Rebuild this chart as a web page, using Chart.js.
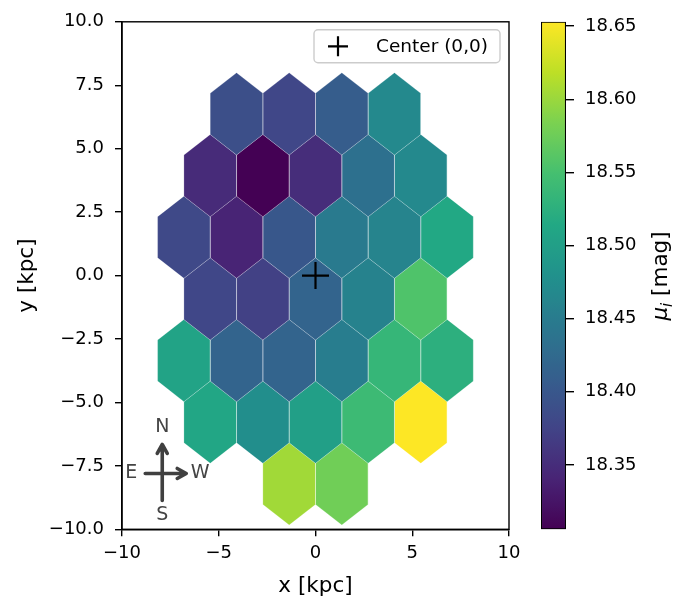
<!DOCTYPE html>
<html>
<head>
<meta charset="utf-8">
<script src="https://cdn.jsdelivr.net/npm/chart.js@4.4.1/dist/chart.umd.min.js"></script>
<style>
  html, body { margin: 0; padding: 0; background: #fff; }
  #wrap { position: relative; width: 673px; height: 596px; overflow: hidden; }
  #main { position: absolute; left: 0; top: 0; }
  #cbar { position: absolute; left: 520px; top: 0; }
</style>
</head>
<body>
<div id="wrap">
  <canvas id="main" width="673" height="596"></canvas>
  <canvas id="cbar" width="153" height="596"></canvas>
</div>
<script>
// hexbin cell centres (kpc) and mean distance modulus per cell
const hexX = [
  -4.08, -1.36, 1.36, 4.08,
  -5.44, -2.72, 0, 2.72, 5.44,
  -6.8, -4.08, -1.36, 1.36, 4.08, 6.8,
  -5.44, -2.72, 0, 2.72, 5.44,
  -6.8, -4.08, -1.36, 1.36, 4.08, 6.8,
  -5.44, -2.72, 0, 2.72, 5.44,
  -1.36, 1.36,
];
const hexY = [
  6.37, 6.37, 6.37, 6.37,
  3.94, 3.94, 3.94, 3.94, 3.94,
  1.51, 1.51, 1.51, 1.51, 1.51, 1.51,
  -0.92, -0.92, -0.92, -0.92, -0.92,
  -3.35, -3.35, -3.35, -3.35, -3.35, -3.35,
  -5.78, -5.78, -5.78, -5.78, -5.78,
  -8.21, -8.21,
];
const muI = [
  18.389, 18.379, 18.407, 18.469,
  18.348, 18.306, 18.351, 18.434, 18.469,
  18.382, 18.341, 18.400, 18.448, 18.462, 18.514,
  18.379, 18.372, 18.417, 18.459, 18.556,
  18.507, 18.417, 18.417, 18.452, 18.535, 18.525,
  18.511, 18.476, 18.500, 18.542, 18.653,
  18.604, 18.577,
];
const centerPoint = [{x: 0, y: 0}];

const xTicks = [-10, -5, 0, 5, 10];
const yTicks = [-10, -7.5, -5, -2.5, 0, 2.5, 5, 7.5, 10];
const cbarTicks = [18.35, 18.40, 18.45, 18.50, 18.55, 18.60, 18.65];

// hexagon geometry in data units (half width, centre-to-vertex)
const HEX_W = 1.36;
const HEX_R = 1.62;

const viridisStops = [
  '#440154', '#482475', '#414487', '#355f8d', '#2a788e', '#21918c',
  '#22a884', '#44bf70', '#7ad151', '#bddf26', '#fde725'
];

function hexToRgb(h) {
  return [1, 3, 5].map(i => parseInt(h.slice(i, i + 2), 16));
}

function viridis(t) {
  t = Math.min(1, Math.max(0, t));
  const pos = t * (viridisStops.length - 1);
  const i = Math.min(Math.floor(pos), viridisStops.length - 2);
  const f = pos - i;
  const a = hexToRgb(viridisStops[i]);
  const b = hexToRgb(viridisStops[i + 1]);
  const c = a.map((v, k) => Math.round(v + (b[k] - v) * f));
  return `rgb(${c[0]}, ${c[1]}, ${c[2]})`;
}

const vmin = Math.min(...muI);
const vmax = Math.max(...muI);

const minus = (s) => String(s).replace('-', '\u2212');

Chart.defaults.font.family = '"DejaVu Sans", sans-serif';
Chart.defaults.font.size = 18;
Chart.defaults.color = '#000';

const labelFont = {size: 21.5};

// one closed scatter line per hexbin cell
const hexDatasets = hexX.map((cx, i) => {
  const cy = hexY[i];
  const col = viridis((muI[i] - vmin) / (vmax - vmin));
  return {
    label: 'hex',
    data: [
      {x: cx, y: cy + HEX_R},
      {x: cx + HEX_W, y: cy + HEX_R / 2},
      {x: cx + HEX_W, y: cy - HEX_R / 2},
      {x: cx, y: cy - HEX_R},
      {x: cx - HEX_W, y: cy - HEX_R / 2},
      {x: cx - HEX_W, y: cy + HEX_R / 2},
      {x: cx, y: cy + HEX_R},
    ],
    showLine: true,
    fill: 'shape',
    backgroundColor: col,
    borderColor: 'rgba(255,255,255,0.25)',
    borderWidth: 0.8,
    pointRadius: 0,
    tension: 0,
  };
});

const frame = {
  id: 'frame',
  afterDraw(chart) {
    const {ctx, chartArea: a} = chart;
    ctx.save();
    ctx.strokeStyle = '#000';
    ctx.lineWidth = 1.4;
    ctx.strokeRect(a.left, a.top, a.right - a.left, a.bottom - a.top);
    ctx.restore();
  }
};

const centerLegend = {
  id: 'centerLegend',
  afterDraw(chart) {
    const {ctx, chartArea: a} = chart;
    const label = chart.data.datasets[0].label;
    const w = 186, h = 33;
    const x = a.right - 9 - w, y = a.top + 8;
    ctx.save();
    ctx.beginPath();
    ctx.roundRect(x, y, w, h, 4);
    ctx.fillStyle = 'rgba(255,255,255,0.8)';
    ctx.fill();
    ctx.strokeStyle = '#cccccc';
    ctx.lineWidth = 1.4;
    ctx.stroke();
    // marker
    const mx = x + 24, my = y + h / 2;
    ctx.beginPath();
    ctx.moveTo(mx - 10, my); ctx.lineTo(mx + 10, my);
    ctx.moveTo(mx, my - 10); ctx.lineTo(mx, my + 10);
    ctx.strokeStyle = '#000';
    ctx.lineWidth = 2.2;
    ctx.stroke();
    ctx.fillStyle = '#000';
    ctx.font = '18.5px "DejaVu Sans"';
    ctx.textBaseline = 'middle';
    ctx.fillText(label, x + 62, my + 1);
    ctx.restore();
  }
};

const compass = {
  id: 'compass',
  afterDraw(chart) {
    const {ctx, chartArea: a} = chart;
    const cx = a.left + 0.104 * (a.right - a.left);
    const cy = a.top + 0.89 * (a.bottom - a.top);
    ctx.save();
    ctx.strokeStyle = 'rgba(30,30,30,0.85)';
    ctx.lineWidth = 3.6;
    ctx.lineCap = 'round';
    ctx.lineJoin = 'round';
    ctx.beginPath();
    ctx.moveTo(cx, cy + 27); ctx.lineTo(cx, cy - 29);
    ctx.moveTo(cx - 5, cy - 20); ctx.lineTo(cx, cy - 29); ctx.lineTo(cx + 5, cy - 20);
    ctx.moveTo(cx - 17, cy); ctx.lineTo(cx + 24, cy);
    ctx.moveTo(cx + 15, cy - 5); ctx.lineTo(cx + 24, cy); ctx.lineTo(cx + 15, cy + 5);
    ctx.stroke();
    ctx.fillStyle = '#444';
    ctx.font = '19px "DejaVu Sans"';
    ctx.textAlign = 'center';
    ctx.textBaseline = 'middle';
    ctx.fillText('N', cx, cy - 46);
    ctx.fillText('S', cx, cy + 42);
    ctx.fillText('E', cx - 31, cy);
    ctx.fillText('W', cx + 38, cy);
    ctx.restore();
  }
};

new Chart(document.getElementById('main'), {
  type: 'scatter',
  data: {
    datasets: [
      {
        label: 'Center (0,0)',
        data: centerPoint,
        pointStyle: 'cross',
        pointRadius: 13.5,
        borderColor: '#000',
        borderWidth: 2.2,
        showLine: false,
      },
      ...hexDatasets,
    ],
  },
  options: {
    responsive: false,
    animation: false,
    devicePixelRatio: 1,
    events: [],
    layout: {padding: {top: 20, right: 164, bottom: 0, left: 0}},
    plugins: {
      legend: {display: false},
      tooltip: {enabled: false},
    },
    scales: {
      x: {
        type: 'linear',
        min: -10,
        max: 10,
        afterBuildTicks: (s) => { s.ticks = xTicks.map(v => ({value: v})); },
        afterFit: (s) => { s.height = 66.7; },
        grid: {drawOnChartArea: false, color: '#000', lineWidth: 1.4, tickLength: 7},
        border: {display: true, color: '#000', width: 1.4},
        ticks: {padding: 6, maxRotation: 0, callback: (v) => minus(v)},
        title: {display: true, text: 'x [kpc]', font: labelFont, padding: {top: 0, bottom: -3}},
      },
      y: {
        type: 'linear',
        min: -10,
        max: 10,
        afterBuildTicks: (s) => { s.ticks = yTicks.map(v => ({value: v})); },
        afterFit: (s) => { s.width = 122; },
        grid: {drawOnChartArea: false, color: '#000', lineWidth: 1.4, tickLength: 7},
        border: {display: true, color: '#000', width: 1.4},
        ticks: {padding: 11, callback: (v) => minus(v.toFixed(1))},
        title: {display: true, text: 'y [kpc]', font: labelFont, padding: {top: 15, bottom: 0}},
      },
    },
  },
  plugins: [frame, centerLegend, compass],
});

const cbarTitle = {
  id: 'cbarTitle',
  afterDraw(chart) {
    const ctx = chart.ctx;
    ctx.save();
    ctx.translate(140, 276);
    ctx.rotate(-Math.PI / 2);
    ctx.fillStyle = '#000';
    const big = '21.5px "DejaVu Sans"';
    const it = 'italic 21.5px "DejaVu Sans"';
    const sub = 'italic 15px "DejaVu Sans"';
    ctx.font = it; const w1 = ctx.measureText('\u03bc').width;
    ctx.font = sub; const w2 = ctx.measureText('i').width;
    ctx.font = big; const w3 = ctx.measureText(' [mag]').width;
    let x = -(w1 + w2 + w3) / 2;
    const base = 7;
    ctx.textBaseline = 'alphabetic';
    ctx.font = it; ctx.fillText('\u03bc', x, base); x += w1;
    ctx.font = sub; ctx.fillText('i', x, base + 4.5); x += w2;
    ctx.font = big; ctx.fillText(' [mag]', x, base);
    ctx.restore();
  }
};

new Chart(document.getElementById('cbar'), {
  type: 'bar',
  data: {
    labels: [''],
    datasets: [{
      data: [[vmin, vmax]],
      backgroundColor: (c) => {
        const chart = c.chart;
        if (!chart.chartArea) return '#21918c';
        const ys = chart.scales.y;
        const g = chart.ctx.createLinearGradient(0, ys.getPixelForValue(vmin), 0, ys.getPixelForValue(vmax));
        for (let k = 0; k <= 40; k++) g.addColorStop(k / 40, viridis(k / 40));
        return g;
      },
      borderColor: '#000',
      borderWidth: 1.4,
      borderSkipped: false,
      barPercentage: 1,
      categoryPercentage: 1,
    }],
  },
  options: {
    responsive: false,
    animation: false,
    devicePixelRatio: 1,
    events: [],
    layout: {padding: {top: 19.3, right: 0, bottom: 66.7, left: 21}},
    plugins: {legend: {display: false}, tooltip: {enabled: false}},
    scales: {
      x: {display: false},
      y: {
        position: 'right',
        min: vmin,
        max: vmax,
        afterBuildTicks: (s) => { s.ticks = cbarTicks.map(v => ({value: v})); },
        afterFit: (s) => { s.width = 107; },
        grid: {drawOnChartArea: false, color: '#000', lineWidth: 1.4, tickLength: 8},
        border: {display: false},
        ticks: {padding: 11, callback: (v) => v.toFixed(2)},
      },
    },
  },
  plugins: [cbarTitle],
});
</script>
</body>
</html>
